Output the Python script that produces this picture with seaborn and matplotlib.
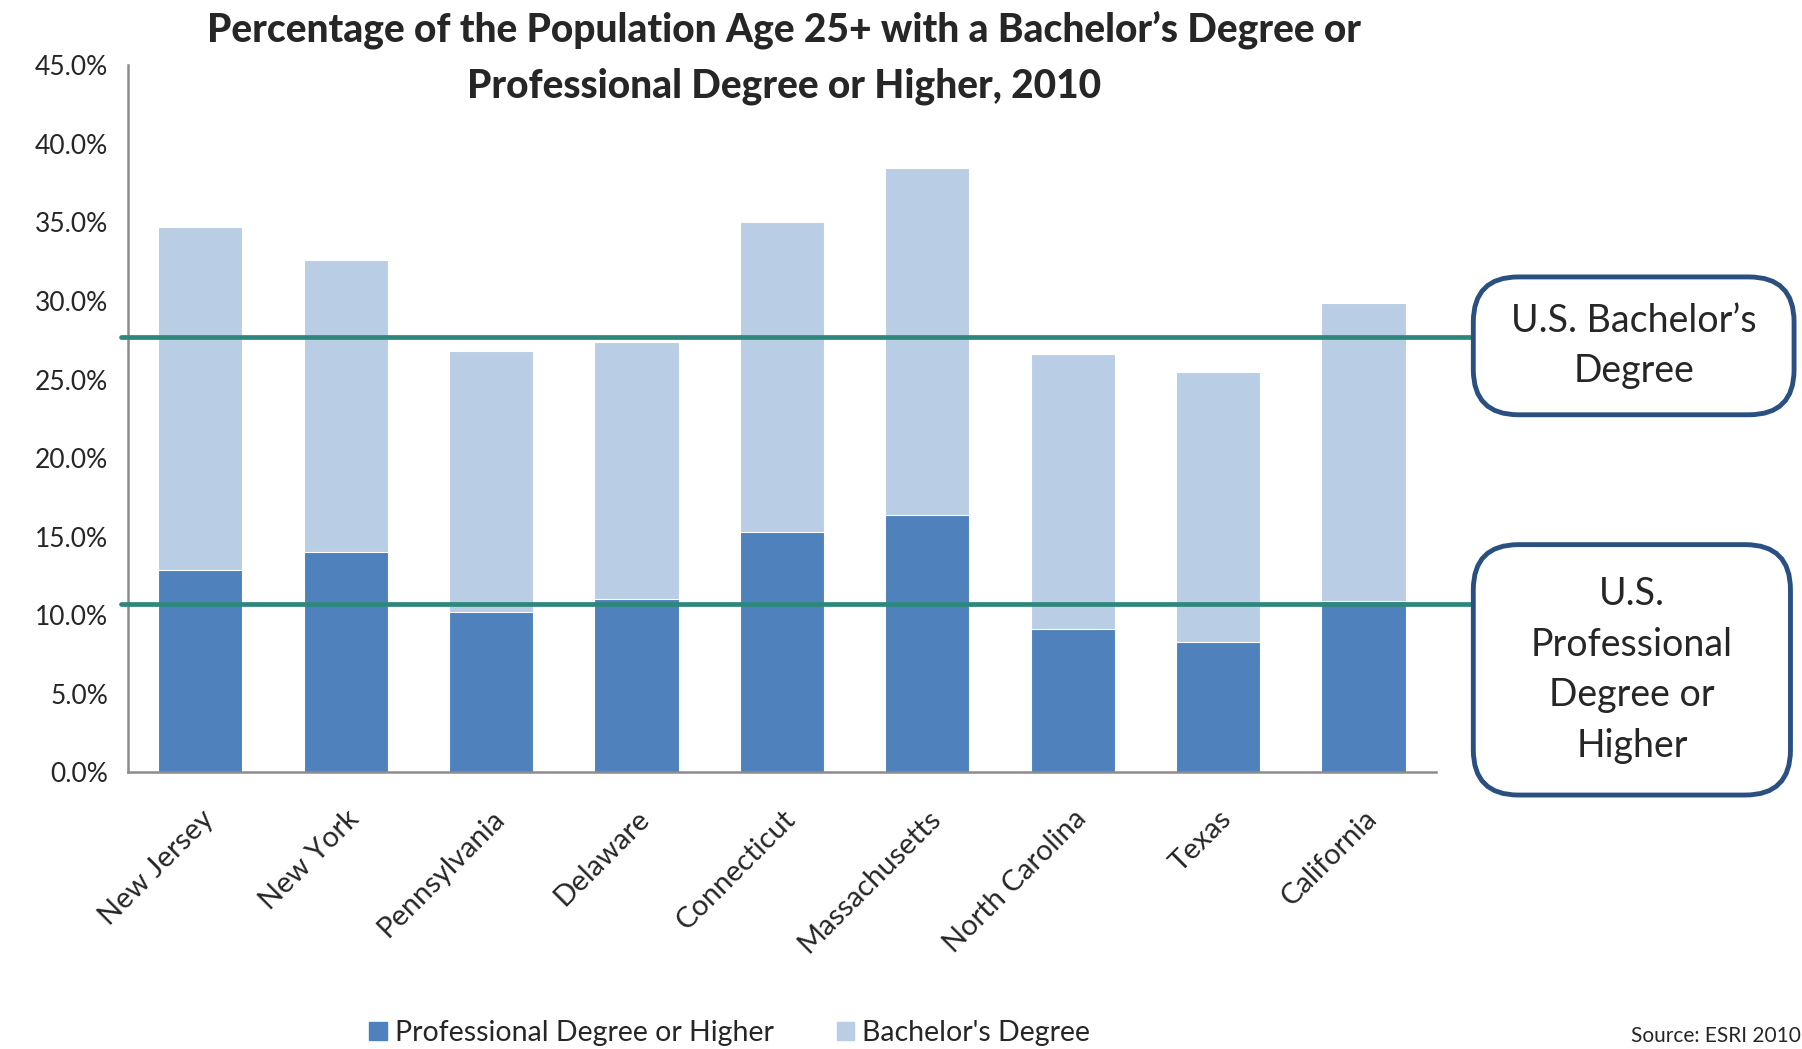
import pandas as pd
import matplotlib.pyplot as plt
import seaborn as sns
from matplotlib.patches import Patch, FancyBboxPatch

# данные (проценты)
states = ["New Jersey", "New York", "Pennsylvania", "Delaware", "Connecticut",
          "Massachusetts", "North Carolina", "Texas", "California"]
professional = [12.9, 14.0, 10.2, 11.0, 15.3, 16.4, 9.1, 8.3, 10.9]
bachelor = [21.8, 18.6, 16.6, 16.4, 19.7, 22.1, 17.5, 17.2, 19.0]
us_bachelor = 27.7
us_professional = 10.7
y_ticks = [0, 5, 10, 15, 20, 25, 30, 35, 40, 45]

dark_blue = "#4F81BD"
light_blue = "#B9CDE5"
teal = "#2E877C"
box_edge = "#2A5082"

df = pd.DataFrame({"state": states, "professional": professional, "bachelor": bachelor})
df["total"] = df["professional"] + df["bachelor"]

sns.set_style("white")
plt.rcParams["font.family"] = ["Lato", "DejaVu Sans"]

fig = plt.figure(figsize=(18.02, 10.49), dpi=100)
ax = fig.add_axes([0.0708, 0.264, 0.7262, 0.6736])

# стек: сначала полная высота (светлый), потом нижняя часть (тёмный)
sns.barplot(data=df, x="state", y="total", color=light_blue, width=0.58,
            saturation=1, edgecolor="white", linewidth=0.8, ax=ax)
sns.barplot(data=df, x="state", y="professional", color=dark_blue, width=0.58,
            saturation=1, edgecolor="white", linewidth=0.8, ax=ax)

ax.set_xlim(-0.5, len(states) - 0.5)
ax.set_ylim(0, 45)
ax.set_yticks(y_ticks)
ax.set_yticklabels([f"{v:.1f}%" for v in y_ticks], fontsize=19)
ax.set_xticks(range(len(states)))
ax.set_xticklabels(states, rotation=45, ha="right", rotation_mode="anchor", fontsize=21)
ax.tick_params(axis="both", length=0, pad=14)
ax.tick_params(axis="x", pad=24)
ax.set_xlabel("")
ax.set_ylabel("")
for side in ["top", "right"]:
    ax.spines[side].set_visible(False)
for side in ["left", "bottom"]:
    ax.spines[side].set_color("#8C8C8C")
    ax.spines[side].set_linewidth(1.8)

# линии по США, уходят в рамки справа
ax.axhline(us_bachelor, xmin=-0.005, xmax=1.028, color=teal, lw=3.4, clip_on=False, zorder=5)
ax.axhline(us_professional, xmin=-0.005, xmax=1.028, color=teal, lw=3.4, clip_on=False, zorder=5)

fig.text(0.435, 0.99, "Percentage of the Population Age 25+ with a Bachelor’s Degree or\n"
         "Professional Degree or Higher, 2010", ha="center", va="top",
         fontsize=28, fontweight="black", linespacing=1.6)

# рамки с подписями
for (x0, y0, w, h, label) in [
    (0.8176, 0.6046, 0.178, 0.1314, "U.S. Bachelor’s\nDegree"),
    (0.8176, 0.2421, 0.176, 0.2387, "U.S.\nProfessional\nDegree or\nHigher"),
]:
    box = FancyBboxPatch((x0, y0), w, h, boxstyle="round,pad=0,rounding_size=0.025",
                         transform=fig.transFigure, facecolor="white",
                         edgecolor=box_edge, linewidth=3.5, mutation_aspect=1.72)
    fig.patches.append(box)
    fig.text(x0 + w / 2, y0 + h / 2, label, ha="center", va="center",
             fontsize=27, linespacing=1.5)

handles = [Patch(color=dark_blue, label="Professional Degree or Higher"),
           Patch(color=light_blue, label="Bachelor's Degree")]
fig.legend(handles=handles, loc="lower center", bbox_to_anchor=(0.405, -0.022), ncol=2,
           frameon=False, fontsize=20.5, handlelength=0.6, handleheight=0.6,
           handletextpad=0.3, columnspacing=2.2)

fig.text(0.905, 0.003, "Source: ESRI 2010", ha="left", va="bottom", fontsize=15)

fig.savefig("out.png", dpi=100)
